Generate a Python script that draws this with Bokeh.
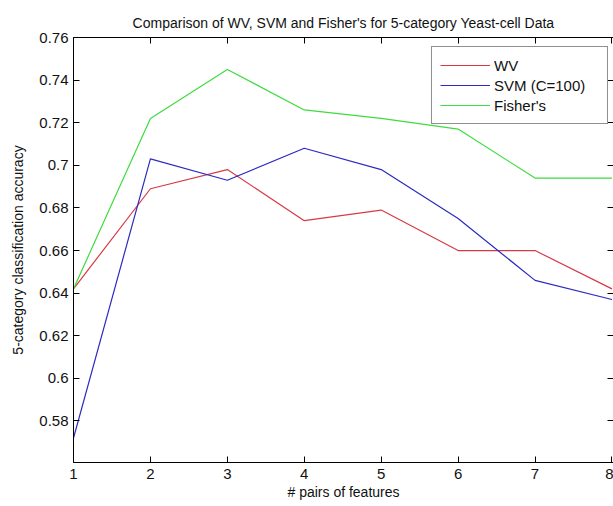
from bokeh.plotting import figure
from bokeh.models import Range1d, FixedTicker, LinearAxis, Legend, LegendItem
from bokeh.embed import file_html
from bokeh.resources import INLINE

# number of feature pairs
pairs = [1, 2, 3, 4, 5, 6, 7, 8]

# 5-category classification accuracy per method
wv_acc = [0.642, 0.689, 0.698, 0.674, 0.679, 0.660, 0.660, 0.642]
svm_acc = [0.572, 0.703, 0.693, 0.708, 0.698, 0.675, 0.646, 0.637]
fisher_acc = [0.642, 0.722, 0.745, 0.726, 0.722, 0.717, 0.694, 0.694]

x_ticks = [1, 2, 3, 4, 5, 6, 7, 8]
y_ticks = [0.58, 0.60, 0.62, 0.64, 0.66, 0.68, 0.70, 0.72, 0.74, 0.76]

FONT = "Liberation Sans"

p = figure(
    width=613, height=506,
    output_backend="svg", toolbar_location=None,
    x_range=Range1d(1, 8.02), y_range=Range1d(0.5605, 0.76),
    min_border_left=0, min_border_right=0, min_border_top=0, min_border_bottom=0,
    title="Comparison of WV, SVM and Fisher's for 5-category Yeast-cell Data",
)
p.background_fill_color = "white"
p.border_fill_color = "white"
p.outline_line_color = None
p.xgrid.visible = False
p.ygrid.visible = False

p.title.text_font = FONT
p.title.text_font_size = "14px"
p.title.text_font_style = "normal"
p.title.align = "center"
p.title.text_color = "#111111"
p.title.standoff = 14

# bottom / left axes with inward ticks
for ax in (p.xaxis[0], p.yaxis[0]):
    ax.major_tick_in = 6
    ax.major_tick_out = 0
    ax.minor_tick_line_color = None
    ax.axis_line_color = "black"
    ax.major_tick_line_color = "black"
    ax.major_label_text_font = FONT
    ax.major_label_text_font_size = "15px"
    ax.major_label_text_color = "#111111"
    ax.axis_label_text_font = FONT
    ax.axis_label_text_font_size = "14px"
    ax.axis_label_text_font_style = "normal"
    ax.axis_label_text_color = "#111111"

p.xaxis.ticker = FixedTicker(ticks=x_ticks)
p.yaxis.ticker = FixedTicker(ticks=y_ticks)
p.xaxis.axis_label = "# pairs of features"
p.yaxis.axis_label = "5-category classification accuracy"
p.xaxis.major_label_standoff = 6
p.yaxis.major_label_standoff = 5
p.xaxis.axis_label_standoff = 2
p.yaxis.axis_label_standoff = 10

# top and right box edges with inward ticks, no labels
top_ax = LinearAxis(ticker=FixedTicker(ticks=x_ticks),
                    major_label_overrides={t: "" for t in x_ticks})
right_ax = LinearAxis(ticker=FixedTicker(ticks=y_ticks),
                      major_label_overrides={t: "" for t in y_ticks})
for ax in (top_ax, right_ax):
    ax.major_tick_in = 6
    ax.major_tick_out = 0
    ax.minor_tick_line_color = None
    ax.major_label_standoff = 0
    ax.major_tick_line_color = "black"
right_ax.axis_line_color = None
p.add_layout(top_ax, "above")
p.add_layout(right_ax, "right")

p.min_border_left = 73
p.min_border_top = 37
p.min_border_bottom = 44

r_wv = p.line(pairs, wv_acc, line_color="#d83a45", line_width=1.2)
r_svm = p.line(pairs, svm_acc, line_color="#2b2bc0", line_width=1.2)
r_fisher = p.line(pairs, fisher_acc, line_color="#3edc3e", line_width=1.2)

legend = Legend(
    items=[
        LegendItem(label="WV", renderers=[r_wv]),
        LegendItem(label="SVM (C=100)", renderers=[r_svm]),
        LegendItem(label="Fisher's", renderers=[r_fisher]),
    ],
    location=(358, 338),
    orientation="vertical",
    glyph_width=50, glyph_height=20,
    label_height=20, label_width=105,
    label_standoff=4, spacing=0, padding=8, margin=0,
    label_text_font=FONT, label_text_font_size="15px", label_text_color="#111111",
    border_line_color="#222222", border_line_width=1,
    background_fill_color="white", background_fill_alpha=1.0,
)
p.add_layout(legend, "center")

open("out.html", "w").write(file_html(p, INLINE))
